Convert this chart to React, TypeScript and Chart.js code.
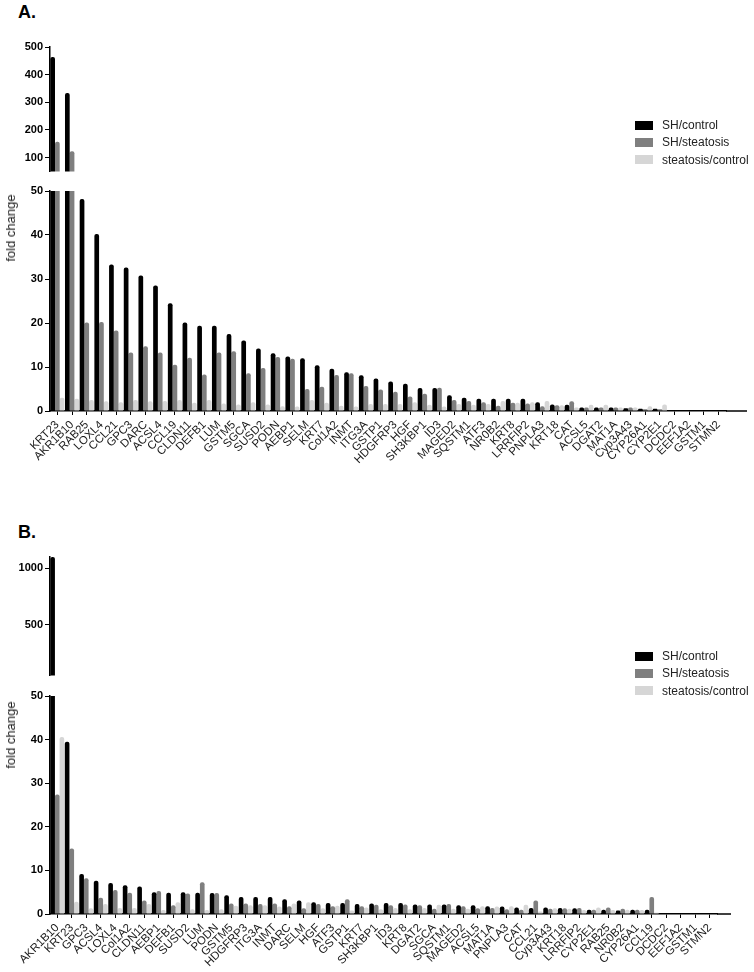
import React, { useEffect, useRef } from "react";
import { Chart, registerables } from "chart.js";

Chart.register(...registerables);

const FONT = "'Liberation Sans', Arial, Helvetica, sans-serif";
const SERIES = ["SH/control", "SH/steatosis", "steatosis/control"];
const COLORS = ["#000000", "#7f7f7f", "#d6d6d6"];

// ---------- Panel A ----------
const catsA = [
  "KRT23", "AKR1B10", "RAB25", "LOXL4", "CCL21", "GPC3", "DARC", "ACSL4", "CCL19", "CLDN11",
  "DEFB1", "LUM", "GSTM5", "SGCA", "SUSD2", "PODN", "AEBP1", "SELM", "KRT7", "Col1A2",
  "INMT", "ITG3A", "GSTP1", "HDGFRP3", "HGF", "SH3KBP1", "ID3", "MAGED2", "SQSTM1", "ATF3",
  "NR0B2", "KRT8", "LRRFIP2", "PNPLA3", "KRT18", "CAT", "ACSL5", "DGAT2", "MAT1A", "Cyp3A43",
  "CYP26A1", "CYP2E1", "DCDC2", "EEF1A2", "GSTM1", "STMN2",
];
const shControlA = [
  464, 334, 48.2, 40.2, 33.3, 32.6, 30.8, 28.5, 24.5, 20.1,
  19.4, 19.4, 17.5, 16.0, 14.2, 13.1, 12.4, 12.0, 10.4, 9.6,
  8.8, 8.1, 7.4, 6.7, 6.2, 5.2, 5.2, 3.6, 3.0, 2.8,
  2.8, 2.8, 2.8, 2.0, 1.5, 1.4, 0.8, 0.8, 0.8, 0.6,
  0.5, 0.5, null, null, null, null,
];
const shSteatosisA = [
  157, 123, 20.1, 20.2, 18.3, 13.3, 14.7, 13.3, 10.5, 12.1,
  8.3, 13.3, 13.6, 8.6, 9.8, 12.3, 11.9, 5.0, 5.5, 8.2,
  8.6, 5.7, 4.9, 4.4, 3.3, 3.9, 5.3, 2.5, 2.3, 2.0,
  1.2, 1.9, 1.7, 1.1, 1.3, 2.2, 0.8, 0.8, 0.8, 0.8,
  0.4, 0.4, null, null, null, null,
];
const steatosisControlA = [
  3.0, 2.8, 2.5, 2.2, 2.0, 2.5, 2.2, 2.3, 2.5, 1.9,
  2.5, 1.7, 1.5, 2.0, 1.5, 1.1, 1.0, 2.5, 1.9, 1.2,
  1.0, 1.6, 1.6, 1.6, 2.0, 1.4, 1.0, 1.6, 1.4, 1.6,
  2.3, 1.9, 2.0, 2.3, 1.3, 0.8, 1.4, 1.4, 0.8, 0.8,
  1.1, 1.5, null, null, null, null,
];

// ---------- Panel B ----------
const catsB = [
  "AKR1B10", "KRT23", "GPC3", "ACSL4", "LOXL4", "Col1A2", "CLDN11", "AEBP1", "DEFB1", "SUSD2",
  "LUM", "PODN", "GSTM5", "HDGFRP3", "ITG3A", "INMT", "DARC", "SELM", "HGF", "ATF3",
  "GSTP1", "KRT7", "SH3KBP1", "ID3", "KRT8", "DGAT2", "SGCA", "SQSTM1", "MAGED2", "ACSL5",
  "MAT1A", "PNPLA3", "CAT", "CCL21", "Cyp3A43", "KRT18", "LRRFIP2", "CYP2E1", "RAB25", "NR0B2",
  "CYP26A1", "CCL19", "DCDC2", "EEF1A2", "GSTM1", "STMN2",
];
const shControlB = [
  1100, 39.5, 9.2, 7.6, 7.1, 6.6, 6.3, 5.0, 4.9, 5.0,
  4.9, 4.8, 4.3, 3.9, 3.9, 3.9, 3.4, 3.1, 2.7, 2.5,
  2.5, 2.3, 2.4, 2.5, 2.5, 2.2, 2.2, 2.2, 2.0, 2.0,
  1.8, 1.7, 1.5, 1.4, 1.5, 1.4, 1.3, 1.0, 1.0, 0.8,
  1.0, 1.0, null, null, null, null,
];
const shSteatosisB = [
  27.4, 15.0, 8.2, 3.7, 5.5, 4.9, 3.1, 5.3, 2.0, 4.7,
  7.3, 4.8, 2.4, 2.4, 2.3, 2.4, 1.8, 1.3, 2.3, 1.8,
  3.4, 1.8, 2.1, 2.0, 2.2, 2.0, 1.2, 2.3, 1.8, 1.3,
  1.4, 1.1, 1.0, 3.1, 1.2, 1.3, 1.4, 1.0, 1.5, 1.2,
  1.0, 3.9, null, null, null, null,
];
const steatosisControlB = [
  40.6, 2.8, 1.3, 2.3, 1.4, 1.4, 2.3, 0.9, 2.7, 1.1,
  0.9, 1.1, 1.9, 2.0, 2.0, 1.7, 2.4, 2.7, 1.3, 1.9,
  0.8, 1.5, 1.1, 1.4, 1.1, 1.4, 2.1, 1.2, 1.2, 1.8,
  1.7, 1.8, 2.1, 0.6, 1.3, 1.2, 0.9, 1.5, 0.9, 1.0,
  0.9, 0.3, null, null, null, null,
];

// ---------- tick labels ----------
const upperTicksA = [100, 200, 300, 400, 500];
const upperTicksB = [500, 1000];
const lowerTicks = [0, 10, 20, 30, 40, 50];

const extendAxis = {
  id: "extendAxis",
  afterDraw(chart: any, _args: any, opts: any) {
    if (!opts || !opts.length) return;
    const { ctx, chartArea } = chart;
    ctx.save();
    ctx.strokeStyle = "#000";
    ctx.lineWidth = 1.5;
    ctx.beginPath();
    ctx.moveTo(chartArea.right, chartArea.bottom);
    ctx.lineTo(chartArea.right + opts.length, chartArea.bottom);
    ctx.stroke();
    ctx.restore();
  },
};

type PanelProps = {
  labels: string[];
  series: (number | null)[][];
  min: number;
  max: number;
  ticks: number[];
  showX: boolean;
  top: number;
  height: number;
  padRight: number;
  extend: number;
};

function BarPanel(p: PanelProps) {
  const ref = useRef<HTMLCanvasElement | null>(null);
  useEffect(() => {
    if (!ref.current) return;
    const xScale: any = {
      display: p.showX,
      offset: true,
      grid: {
        display: true,
        offset: false,
        drawOnChartArea: false,
        drawTicks: true,
        tickLength: 4,
        color: "#000",
        lineWidth: 1,
      },
      border: { display: true, color: "#000", width: 1.5 },
      ticks: {
        autoSkip: false,
        maxRotation: 45,
        minRotation: 45,
        padding: 3,
        color: "#1a1a1a",
        font: { family: FONT, size: 11.5 },
      },
    };
    if (p.showX) {
      xScale.afterFit = (s: any) => {
        s.height = 60;
      };
    }
    const chart = new Chart(ref.current, {
      type: "bar",
      data: {
        labels: p.labels,
        datasets: p.series.map((d, i) => ({
          label: SERIES[i],
          data: d,
          backgroundColor: COLORS[i],
          borderWidth: 0,
          borderRadius: 2,
          categoryPercentage: 0.96,
          barPercentage: 1,
        })),
      },
      options: {
        animation: false,
        responsive: false,
        maintainAspectRatio: false,
        layout: { padding: { top: 10, right: p.padRight, bottom: 0, left: 0 } },
        plugins: {
          legend: { display: false },
          tooltip: { enabled: false },
          extendAxis: { length: p.extend },
        } as any,
        scales: {
          x: xScale,
          y: {
            min: p.min,
            max: p.max,
            afterBuildTicks: (s: any) => {
              s.ticks = p.ticks.map((v) => ({ value: v }));
            },
            afterFit: (s: any) => {
              s.width = 50;
            },
            grid: {
              drawOnChartArea: false,
              drawTicks: true,
              tickLength: 5,
              color: "#000",
              lineWidth: 1,
            },
            border: { display: true, color: "#000", width: 1.5 },
            ticks: {
              padding: 2,
              color: "#000",
              font: { family: FONT, size: 11, weight: "bold" },
              callback: (v: any) => String(v),
            },
          },
        },
      } as any,
      plugins: [extendAxis],
    });
    return () => chart.destroy();
  }, []);
  return (
    <canvas
      ref={ref}
      width={754}
      height={p.height}
      style={{ position: "absolute", left: 0, top: p.top, width: 754, height: p.height }}
    />
  );
}

function Legend({ top }: { top: number }) {
  return (
    <div style={{ position: "absolute", left: 635, top, fontFamily: FONT, fontSize: 12, color: "#222" }}>
      {SERIES.map((s, i) => (
        <div key={s} style={{ position: "absolute", left: 0, top: i * 17.3, height: 14, width: 120 }}>
          <div style={{ position: "absolute", left: 0, top: 2.5, width: 18, height: 9, background: COLORS[i] }} />
          <div style={{ position: "absolute", left: 27, top: 0, lineHeight: "14px", whiteSpace: "nowrap" }}>{s}</div>
        </div>
      ))}
    </div>
  );
}

function YTitle({ cy }: { cy: number }) {
  return (
    <div
      style={{
        position: "absolute",
        left: 11,
        top: cy,
        transform: "translate(-50%, -50%) rotate(-90deg)",
        fontFamily: FONT,
        fontSize: 13,
        color: "#222",
        whiteSpace: "nowrap",
        lineHeight: "14px",
      }}
    >
      fold change
    </div>
  );
}

function PanelLabel({ text, top }: { text: string; top: number }) {
  return (
    <div
      style={{
        position: "absolute",
        left: 18,
        top,
        fontFamily: FONT,
        fontWeight: "bold",
        fontSize: 18,
        lineHeight: "20px",
        color: "#000",
      }}
    >
      {text}
    </div>
  );
}

export default function App() {
  const seriesA = [shControlA, shSteatosisA, steatosisControlA];
  const seriesB = [shControlB, shSteatosisB, steatosisControlB];
  return (
    <div style={{ position: "absolute", left: 0, top: 0, width: 754, height: 972, background: "#fff", overflow: "hidden" }}>
      <PanelLabel text="A." top={2} />
      <BarPanel labels={catsA} series={seriesA} min={50} max={500} ticks={upperTicksA} showX={false}
        top={37} height={143} padRight={28} extend={0} />
      <BarPanel labels={catsA} series={seriesA} min={0} max={50} ticks={lowerTicks} showX={true}
        top={181} height={290} padRight={28} extend={21} />
      <YTitle cy={228} />
      <Legend top={118} />

      <PanelLabel text="B." top={522} />
      <BarPanel labels={catsB} series={seriesB} min={50} max={1100} ticks={upperTicksB} showX={false}
        top={547} height={137} padRight={37} extend={0} />
      <BarPanel labels={catsB} series={seriesB} min={0} max={50} ticks={lowerTicks} showX={true}
        top={686} height={288} padRight={37} extend={14} />
      <YTitle cy={735} />
      <Legend top={649} />
    </div>
  );
}
